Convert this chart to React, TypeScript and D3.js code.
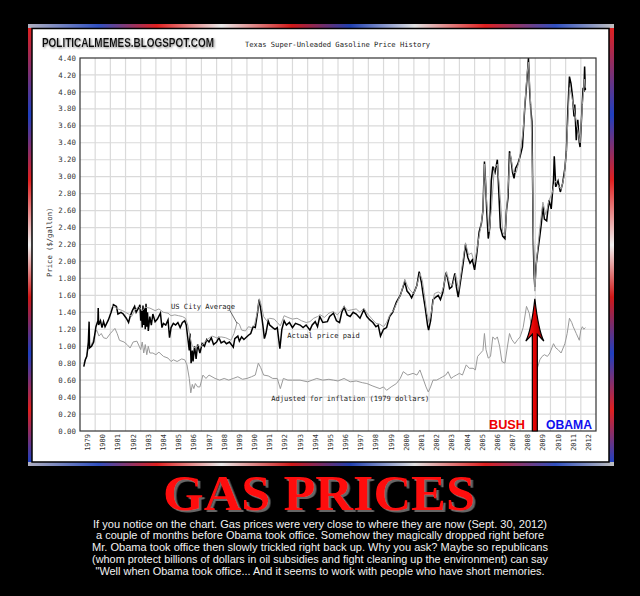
import React from "react";
import * as d3 from "d3";

const actual: [number, number][] = [
  [1979.25,0.76],[1979.35,0.84],[1979.45,0.88],[1979.55,1.05],[1979.6,1.29],[1979.63,0.98],[1979.76,1.0],[1979.9,1.05],[1980.05,1.23],[1980.18,1.3],[1980.2,1.45],[1980.23,1.25],[1980.35,1.3],[1980.45,1.22],[1980.55,1.29],[1980.65,1.23],[1980.87,1.31],[1981.05,1.4],[1981.2,1.49],[1981.4,1.47],[1981.5,1.38],[1981.7,1.4],[1981.85,1.38],[1982.05,1.33],[1982.2,1.28],[1982.3,1.35],[1982.45,1.42],[1982.6,1.47],[1982.7,1.4],[1982.85,1.45],[1982.95,1.49],[1983.0,1.3],[1983.05,1.42],[1983.1,1.22],[1983.15,1.48],[1983.2,1.25],[1983.25,1.45],[1983.3,1.2],[1983.35,1.5],[1983.4,1.23],[1983.45,1.4],[1983.5,1.18],[1983.6,1.35],[1983.7,1.25],[1983.8,1.38],[1983.95,1.29],[1984.1,1.32],[1984.3,1.39],[1984.4,1.22],[1984.5,1.27],[1984.65,1.25],[1984.8,1.31],[1984.9,1.1],[1985.0,1.22],[1985.15,1.27],[1985.3,1.25],[1985.45,1.28],[1985.6,1.22],[1985.75,1.28],[1985.9,1.3],[1986.0,1.25],[1986.1,1.1],[1986.2,0.95],[1986.25,1.15],[1986.32,0.8],[1986.4,0.95],[1986.45,0.82],[1986.55,1.0],[1986.65,0.85],[1986.75,1.02],[1986.9,0.92],[1987.05,1.03],[1987.2,1.0],[1987.35,1.08],[1987.5,1.05],[1987.65,1.1],[1987.8,1.02],[1988.0,1.05],[1988.15,1.1],[1988.3,1.04],[1988.5,1.06],[1988.65,1.03],[1988.85,1.05],[1989.1,0.99],[1989.2,1.09],[1989.4,1.12],[1989.5,1.06],[1989.65,1.11],[1989.8,1.08],[1990.1,1.13],[1990.25,1.15],[1990.4,1.23],[1990.55,1.22],[1990.7,1.4],[1990.8,1.55],[1990.9,1.45],[1991.05,1.25],[1991.15,1.09],[1991.25,1.15],[1991.4,1.3],[1991.5,1.25],[1991.7,1.22],[1991.85,1.2],[1992.0,1.22],[1992.17,0.97],[1992.3,1.2],[1992.45,1.3],[1992.6,1.25],[1992.8,1.28],[1993.0,1.22],[1993.2,1.27],[1993.5,1.25],[1993.7,1.22],[1993.9,1.25],[1994.15,1.19],[1994.3,1.25],[1994.5,1.29],[1994.65,1.23],[1994.8,1.35],[1995.0,1.28],[1995.3,1.29],[1995.45,1.35],[1995.7,1.39],[1995.9,1.3],[1996.1,1.28],[1996.25,1.4],[1996.4,1.46],[1996.6,1.37],[1996.8,1.35],[1997.0,1.4],[1997.2,1.38],[1997.45,1.33],[1997.7,1.43],[1997.9,1.35],[1998.1,1.31],[1998.3,1.28],[1998.5,1.23],[1998.65,1.25],[1998.8,1.12],[1999.0,1.2],[1999.2,1.22],[1999.4,1.35],[1999.6,1.4],[1999.85,1.52],[2000.1,1.6],[2000.4,1.76],[2000.55,1.65],[2000.7,1.62],[2000.85,1.57],[2001.05,1.65],[2001.2,1.72],[2001.35,1.88],[2001.5,1.75],[2001.6,1.62],[2001.75,1.45],[2001.9,1.25],[2001.97,1.19],[2002.1,1.3],[2002.26,1.55],[2002.45,1.58],[2002.6,1.6],[2002.75,1.55],[2002.9,1.63],[2003.1,1.85],[2003.2,1.82],[2003.35,1.68],[2003.5,1.7],[2003.7,1.86],[2003.8,1.7],[2003.92,1.58],[2004.1,1.8],[2004.25,1.98],[2004.4,2.2],[2004.55,2.05],[2004.7,1.98],[2004.85,2.02],[2005.0,1.9],[2005.15,2.1],[2005.3,2.35],[2005.45,2.45],[2005.55,2.6],[2005.65,3.18],[2005.72,2.95],[2005.8,2.6],[2005.9,2.27],[2006.0,2.4],[2006.1,2.95],[2006.2,3.12],[2006.35,3.05],[2006.5,3.2],[2006.6,2.8],[2006.7,2.4],[2006.85,2.3],[2007.0,2.27],[2007.1,2.6],[2007.2,2.75],[2007.3,3.3],[2007.4,3.2],[2007.5,3.05],[2007.6,2.98],[2007.7,3.1],[2007.85,3.15],[2008.0,3.24],[2008.15,3.35],[2008.3,3.8],[2008.45,4.15],[2008.55,4.4],[2008.62,4.05],[2008.7,3.8],[2008.78,3.65],[2008.82,3.0],[2008.87,2.2],[2008.92,1.85],[2008.97,1.7],[2009.05,1.95],[2009.15,2.1],[2009.3,2.3],[2009.4,2.45],[2009.5,2.65],[2009.6,2.5],[2009.75,2.48],[2009.9,2.72],[2010.05,2.62],[2010.2,2.96],[2010.25,3.24],[2010.35,2.88],[2010.5,2.95],[2010.65,2.82],[2010.8,2.92],[2010.95,3.1],[2011.05,3.31],[2011.15,3.8],[2011.25,4.18],[2011.35,4.1],[2011.45,3.95],[2011.55,3.71],[2011.6,3.85],[2011.7,3.43],[2011.8,3.67],[2011.9,3.4],[2011.95,3.35],[2012.05,3.7],[2012.15,4.05],[2012.2,4.0],[2012.25,4.3],[2012.3,4.02]
];

const cityAverage: [number, number][] = [
  [1981.1,1.48],[1981.3,1.46],[1981.5,1.44],[1981.8,1.42],[1982.0,1.4],[1982.2,1.38],[1982.4,1.35],[1982.6,1.42],[1982.85,1.47],[1983.1,1.42],[1983.3,1.46],[1983.6,1.45],[1983.95,1.42],[1984.2,1.44],[1984.5,1.4],[1984.8,1.39],[1985.0,1.36],[1985.25,1.37],[1985.5,1.36],[1985.75,1.35],[1985.95,1.33],[1986.1,1.25],[1986.25,1.11],[1986.4,1.0],[1986.6,0.98],[1986.8,1.01],[1986.95,0.99],[1987.2,1.05],[1987.45,1.09],[1987.7,1.12],[1988.0,1.1],[1988.3,1.11],[1988.6,1.1],[1988.95,1.07],[1989.15,1.15],[1989.35,1.28],[1989.5,1.26],[1989.65,1.19],[1989.9,1.18],[1990.1,1.23],[1990.3,1.22],[1990.5,1.25],[1990.7,1.42],[1990.82,1.56],[1990.95,1.48],[1991.1,1.35],[1991.3,1.3],[1991.5,1.33],[1991.8,1.32],[1992.0,1.28],[1992.2,1.24],[1992.45,1.36],[1992.7,1.34],[1993.0,1.32],[1993.3,1.33],[1993.6,1.3],[1993.9,1.28],[1994.15,1.29],[1994.4,1.33],[1994.65,1.35],[1994.85,1.37],[1995.1,1.34],[1995.4,1.39],[1995.7,1.41],[1995.95,1.37],[1996.2,1.42],[1996.4,1.47],[1996.65,1.42],[1996.9,1.43],[1997.2,1.44],[1997.45,1.4],[1997.7,1.45],[1997.95,1.38],[1998.2,1.33],[1998.5,1.27],[1998.75,1.26],[1999.0,1.23],[1999.2,1.28],[1999.45,1.38],[1999.65,1.42],[1999.9,1.52],[2000.15,1.62],[2000.4,1.79],[2000.6,1.7],[2000.8,1.65],[2001.0,1.62],[2001.2,1.72],[2001.4,1.86],[2001.55,1.78],[2001.7,1.6],[2001.85,1.4],[2002.0,1.28],[2002.2,1.45],[2002.35,1.62],[2002.6,1.64],[2002.8,1.62],[2002.95,1.7],[2003.15,1.88],[2003.35,1.74],[2003.55,1.72],[2003.75,1.85],[2003.95,1.66],[2004.15,1.92],[2004.4,2.22],[2004.6,2.08],[2004.8,2.1],[2005.0,1.98],[2005.2,2.2],[2005.4,2.4],[2005.55,2.6],[2005.65,3.15],[2005.8,2.7],[2005.95,2.35],[2006.1,2.6],[2006.3,3.1],[2006.5,3.15],[2006.65,2.85],[2006.85,2.35],[2007.0,2.3],[2007.2,2.85],[2007.35,3.28],[2007.55,3.05],[2007.75,3.05],[2007.95,3.2],[2008.2,3.55],[2008.45,4.2],[2008.55,4.35],[2008.7,3.85],[2008.8,3.2],[2008.88,2.3],[2008.97,1.65],[2009.1,2.05],[2009.3,2.4],[2009.5,2.7],[2009.7,2.55],[2009.9,2.72],[2010.1,2.8],[2010.3,2.95],[2010.5,2.9],[2010.7,2.85],[2010.9,3.0],[2011.05,3.3],[2011.25,4.05],[2011.4,3.95],[2011.6,3.75],[2011.75,3.6],[2011.95,3.4],[2012.1,3.85],[2012.25,4.15],[2012.3,4.05]
];

const inflationAdjusted: [number, number][] = [
  [1979.25,0.8],[1979.4,0.86],[1979.55,0.98],[1979.7,1.0],[1979.85,1.06],[1980.0,1.15],[1980.1,1.19],[1980.25,1.12],[1980.4,1.15],[1980.55,1.1],[1980.75,1.09],[1981.0,1.15],[1981.3,1.21],[1981.45,1.15],[1981.6,1.07],[1981.9,1.05],[1982.1,1.02],[1982.3,0.98],[1982.5,1.05],[1982.75,1.06],[1982.9,1.0],[1983.0,0.96],[1983.1,1.05],[1983.2,0.92],[1983.3,1.02],[1983.4,0.9],[1983.5,1.0],[1983.6,0.92],[1983.8,0.92],[1984.0,0.9],[1984.2,0.93],[1984.5,0.88],[1984.8,0.86],[1985.0,0.82],[1985.15,0.84],[1985.4,0.82],[1985.7,0.85],[1985.9,0.84],[1986.05,0.78],[1986.2,0.62],[1986.3,0.45],[1986.4,0.55],[1986.5,0.5],[1986.6,0.56],[1986.75,0.52],[1986.9,0.52],[1987.1,0.66],[1987.3,0.62],[1987.5,0.66],[1987.7,0.64],[1987.9,0.62],[1988.2,0.6],[1988.5,0.62],[1988.8,0.6],[1989.1,0.62],[1989.4,0.64],[1989.7,0.61],[1990.0,0.62],[1990.3,0.64],[1990.55,0.66],[1990.75,0.8],[1990.9,0.75],[1991.1,0.66],[1991.4,0.65],[1991.7,0.62],[1992.0,0.62],[1992.2,0.5],[1992.4,0.62],[1992.7,0.6],[1993.0,0.6],[1993.5,0.6],[1994.0,0.58],[1994.3,0.6],[1994.6,0.62],[1995.0,0.6],[1995.4,0.61],[1995.7,0.6],[1996.0,0.59],[1996.4,0.62],[1996.8,0.58],[1997.2,0.59],[1997.6,0.57],[1997.9,0.56],[1998.3,0.53],[1998.76,0.5],[1999.0,0.52],[1999.2,0.48],[1999.5,0.52],[1999.85,0.56],[2000.1,0.62],[2000.3,0.7],[2000.6,0.66],[2000.95,0.68],[2001.2,0.66],[2001.4,0.72],[2001.6,0.62],[2001.8,0.52],[2001.95,0.46],[2002.1,0.52],[2002.26,0.6],[2002.5,0.6],[2002.7,0.62],[2002.9,0.64],[2003.1,0.66],[2003.25,0.7],[2003.45,0.62],[2003.6,0.64],[2003.8,0.66],[2004.0,0.68],[2004.2,0.66],[2004.45,0.78],[2004.65,0.74],[2004.9,0.74],[2005.05,0.72],[2005.2,0.88],[2005.4,0.92],[2005.55,0.95],[2005.65,1.15],[2005.75,0.96],[2005.9,0.86],[2006.05,0.88],[2006.2,1.11],[2006.35,1.08],[2006.5,1.11],[2006.65,1.0],[2006.8,0.82],[2007.0,0.8],[2007.15,0.98],[2007.3,1.15],[2007.45,1.08],[2007.65,1.03],[2007.85,1.08],[2008.0,1.11],[2008.2,1.22],[2008.42,1.47],[2008.6,1.39],[2008.75,1.23],[2008.85,0.95],[2008.97,0.64],[2009.15,0.75],[2009.3,0.84],[2009.45,0.88],[2009.6,0.9],[2009.8,0.88],[2009.96,0.92],[2010.2,1.03],[2010.35,0.98],[2010.5,0.96],[2010.7,0.92],[2010.95,1.03],[2011.1,1.15],[2011.25,1.33],[2011.4,1.28],[2011.5,1.23],[2011.7,1.15],[2011.9,1.07],[2012.0,1.19],[2012.1,1.23],[2012.2,1.2],[2012.3,1.22]
];

const years = d3.range(1979, 2013);
const priceTicks = d3.range(0, 23).map((i) => i * 0.2);

const captionLines = [
  "If you notice on the chart. Gas prices were very close to where they are now (Sept. 30, 2012)",
  "a couple of months before Obama took office. Somehow they magically dropped right before",
  "Mr. Obama took office then slowly trickled right back up. Why you ask? Maybe so republicans",
  "(whom protect billions of dollars in oil subsidies and fight cleaning up the environment) can say",
  "\"Well when Obama took office... And it seems to work with people who have short memories.",
];
const captionWidths = [454, 448, 456, 456, 449];

const MONO = "'DejaVu Sans Mono', monospace";

export default function App() {
  const x = d3.scaleLinear().domain([1979, 2013]).range([80, 596]);
  const y = d3.scaleLinear().domain([0, 4.4]).range([431, 58]);
  const line = d3
    .line<[number, number]>()
    .x((d) => x(d[0]))
    .y((d) => y(d[1]));

  const arrowX = x(2008.97);
  const tipY = y(1.56);
  const headY = y(1.06);
  const notchY = y(1.14);
  const baseY = y(0);

  return (
    <svg
      width={640}
      height={596}
      style={{ position: "absolute", left: 0, top: 0, display: "block" }}
    >
      <defs>
        <linearGradient id="hframe" x1="0" x2="1" y1="0" y2="0">
          <stop offset="0" stopColor="#b0b0c0" />
          <stop offset="0.12" stopColor="#3050c0" />
          <stop offset="0.22" stopColor="#e02020" />
          <stop offset="0.33" stopColor="#e8e8e8" />
          <stop offset="0.45" stopColor="#d01818" />
          <stop offset="0.55" stopColor="#2040b0" />
          <stop offset="0.66" stopColor="#e0e0e0" />
          <stop offset="0.78" stopColor="#e02020" />
          <stop offset="0.9" stopColor="#3050c0" />
          <stop offset="1" stopColor="#c0c0c0" />
        </linearGradient>
        <linearGradient id="vframe" x1="0" x2="0" y1="0" y2="1">
          <stop offset="0" stopColor="#e02020" />
          <stop offset="0.2" stopColor="#2040c0" />
          <stop offset="0.35" stopColor="#e02020" />
          <stop offset="0.5" stopColor="#f0f0f0" />
          <stop offset="0.62" stopColor="#d01818" />
          <stop offset="0.75" stopColor="#2040c0" />
          <stop offset="0.88" stopColor="#e02020" />
          <stop offset="1" stopColor="#2040c0" />
        </linearGradient>
        <linearGradient id="arrowGrad" x1="0" x2="1" y1="0" y2="0">
          <stop offset="0" stopColor="#ff2a2a" />
          <stop offset="0.5" stopColor="#e00000" />
          <stop offset="1" stopColor="#8a0000" />
        </linearGradient>
        <filter id="softShadow" x="-5%" y="-20%" width="110%" height="150%">
          <feDropShadow dx="1" dy="1" stdDeviation="0.8" floodColor="#777" floodOpacity="0.9" />
        </filter>
        <filter id="titleShadow" x="-5%" y="-20%" width="110%" height="150%">
          <feDropShadow dx="2.5" dy="2" stdDeviation="0.6" floodColor="#666" floodOpacity="1" />
        </filter>
      </defs>

      <rect x={0} y={0} width={640} height={596} fill="#000" />

      {/* frame */}
      <rect x={28} y={24} width={586} height={442} fill="url(#hframe)" />
      <rect x={28} y={28} width={4} height={434} fill="url(#vframe)" />
      <rect x={609} y={28} width={5} height={434} fill="url(#vframe)" />
      <rect x={32} y={28.5} width={577} height={433.5} fill="#fff" stroke="#000" strokeWidth={1.5} />

      {/* header */}
      <text x={42} y={47} fontFamily="'Liberation Sans', Arial, sans-serif" fontWeight="bold" fontSize={13} fill="#111" textLength={172} lengthAdjust="spacingAndGlyphs" filter="url(#softShadow)">
        POLITICALMEMES.BLOGSPOT.COM
      </text>
      <text x={245} y={47} fontFamily={MONO} fontSize={7.2} fill="#222" textLength={185} lengthAdjust="spacingAndGlyphs">
        Texas Super-Unleaded Gasoline Price History
      </text>

      {/* grid */}
      <g stroke="#dadada" strokeWidth={1.2}>
        {years.slice(1).map((yr) => (
          <line key={"vg" + yr} x1={x(yr)} x2={x(yr)} y1={y(4.4)} y2={y(0)} />
        ))}
        {priceTicks.slice(1, -1).map((p) => (
          <line key={"hg" + p} x1={x(1979)} x2={x(2013)} y1={y(p)} y2={y(p)} />
        ))}
      </g>

      {/* data lines */}
      <path d={line(inflationAdjusted) || ""} fill="none" stroke="#9a9a9a" strokeWidth={1} />
      <path d={line(actual) || ""} fill="none" stroke="#000" strokeWidth={1.5} />
      <path d={line(cityAverage) || ""} fill="none" stroke="#a0a0a0" strokeWidth={1} />

      {/* plot border */}
      <rect x={x(1979)} y={y(4.4)} width={x(2013) - x(1979)} height={y(0) - y(4.4)} fill="none" stroke="#333" strokeWidth={1.2} />

      {/* y ticks */}
      {priceTicks.map((p) => (
        <text key={"yt" + p} x={76} y={y(p) + 2.6} textAnchor="end" fontFamily={MONO} fontSize={7.4} fill="#333">
          {d3.format(".2f")(p)}
        </text>
      ))}
      <text transform={`translate(52,${y(2.25) + 2}) rotate(-90)`} textAnchor="middle" fontFamily={MONO} fontSize={7.2} fill="#333">
        Price ($/gallon)
      </text>

      {/* x ticks */}
      {years.map((yr) => (
        <text key={"xt" + yr} transform={`translate(${x(yr + 0.5) + 2.5},${y(0) + 3}) rotate(-90)`} textAnchor="end" fontFamily={MONO} fontSize={7} fill="#333">
          {yr}
        </text>
      ))}

      {/* annotations */}
      <text x={x(1985.0)} y={y(1.44)} fontFamily={MONO} fontSize={7.1} fill="#222">
        US City Average
      </text>
      <line x1={x(1988.85)} y1={y(1.43)} x2={x(1989.35)} y2={y(1.27)} stroke="#444" strokeWidth={0.8} />
      <text x={x(1992.65)} y={y(1.1)} fontFamily={MONO} fontSize={7.1} fill="#222">
        Actual price paid
      </text>
      <text x={x(1991.6)} y={y(0.35)} fontFamily={MONO} fontSize={7.1} fill="#222">
        Adjusted for inflation (1979 dollars)
      </text>

      {/* arrow */}
      <path
        d={`M${arrowX},${tipY} C${arrowX + 2},${tipY + 18} ${arrowX + 5},${headY - 8} ${arrowX + 9},${headY} L${arrowX + 2.5},${notchY} L${arrowX + 2.5},${baseY} L${arrowX - 2.5},${baseY} L${arrowX - 2.5},${notchY} L${arrowX - 9},${headY} C${arrowX - 5},${headY - 8} ${arrowX - 2},${tipY + 18} ${arrowX},${tipY} Z`}
        fill="url(#arrowGrad)"
        stroke="#000"
        strokeWidth={1.2}
      />

      <text x={489} y={429} fontFamily="'Liberation Sans', Arial, sans-serif" fontWeight="bold" fontSize={13} fill="#ee0000" textLength={36} lengthAdjust="spacingAndGlyphs">
        BUSH
      </text>
      <text x={546} y={429} fontFamily="'Liberation Sans', Arial, sans-serif" fontWeight="bold" fontSize={13} fill="#1010ee" textLength={46} lengthAdjust="spacingAndGlyphs">
        OBAMA
      </text>

      {/* poster title */}
      <text x={319} y={510} textAnchor="middle" fontFamily="'Liberation Serif', 'DejaVu Serif', serif" fontWeight="bold" fontSize={50} fill="#ff0a0a" textLength={312} lengthAdjust="spacingAndGlyphs" filter="url(#titleShadow)">
        GAS PRICES
      </text>

      {captionLines.map((t, i) => (
        <text key={"c" + i} x={320} y={527.5 + i * 11.8} textAnchor="middle" fontFamily="'Liberation Sans Narrow', 'Liberation Sans', Arial, sans-serif" fontSize={11} fill="#f2f2f2" textLength={captionWidths[i]} lengthAdjust="spacingAndGlyphs">
          {t}
        </text>
      ))}
    </svg>
  );
}
